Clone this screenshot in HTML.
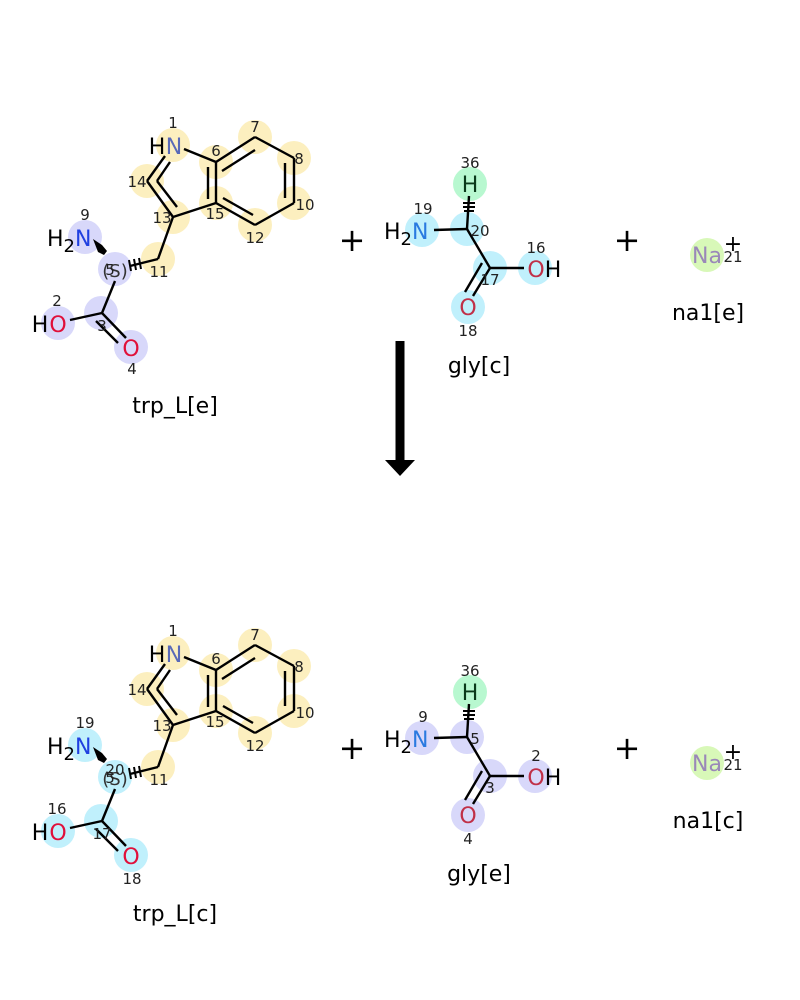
<!DOCTYPE html>
<html><head><meta charset="utf-8"><style>
html,body{margin:0;padding:0;background:#fff;}
svg{display:block;}
text{font-family:"DejaVu Sans","Liberation Sans",sans-serif;}
.n{font-size:15px;fill:#222;text-anchor:middle;}
.a{font-size:22px;text-anchor:middle;}
.lbl{font-size:22px;fill:#000;text-anchor:middle;}
.b{stroke:#000;stroke-width:2.4;fill:none;}
</style></head><body>
<svg width="800" height="1000" viewBox="0 0 800 1000" xmlns="http://www.w3.org/2000/svg">
<defs>
<g id="indole">
  <g fill="#fcefbf">
    <circle cx="173" cy="145" r="17"/><circle cx="216" cy="162" r="17"/><circle cx="255" cy="137" r="17"/>
    <circle cx="294" cy="158" r="17"/><circle cx="294" cy="203" r="17"/><circle cx="255" cy="225" r="17"/>
    <circle cx="216" cy="203" r="17"/><circle cx="173" cy="217" r="17"/><circle cx="147" cy="181" r="17"/>
    <circle cx="158" cy="259" r="17"/>
  </g>
  <g class="b" stroke="#2a2410">
    <line x1="184" y1="149" x2="216" y2="162"/>
    <line x1="216" y1="162" x2="255" y2="137"/><line x1="222" y1="171" x2="255" y2="150"/>
    <line x1="255" y1="137" x2="294" y2="158"/>
    <line x1="294" y1="158" x2="294" y2="203"/><line x1="285" y1="163" x2="285" y2="198"/>
    <line x1="294" y1="203" x2="255" y2="225"/>
    <line x1="255" y1="225" x2="216" y2="203"/><line x1="253" y1="215" x2="223" y2="198"/>
    <line x1="216" y1="203" x2="216" y2="162"/><line x1="208" y1="199" x2="208" y2="167"/>
    <line x1="216" y1="203" x2="173" y2="217"/>
    <line x1="173" y1="217" x2="147" y2="181"/><line x1="177" y1="207" x2="157" y2="181"/>
    <line x1="147" y1="181" x2="165" y2="156"/><line x1="157" y1="181" x2="170" y2="162"/>
    <line x1="173" y1="217" x2="158" y2="259"/>
  </g>
  <text x="157" y="154" class="a" fill="#000">H</text><text x="174" y="154" class="a" fill="#5a6ab8">N</text>
  <text x="173" y="128" class="n">1</text><text x="216" y="156" class="n">6</text><text x="255" y="132" class="n">7</text>
  <text x="299" y="164" class="n">8</text><text x="305" y="210" class="n">10</text><text x="255" y="243" class="n">12</text>
  <text x="215" y="219" class="n">15</text><text x="162" y="223" class="n">13</text><text x="137" y="187" class="n">14</text>
  <text x="159" y="277" class="n">11</text>
</g>
<g id="aa">
  <line class="b" x1="158" y1="259" x2="130" y2="266"/>
  <g stroke="#000" stroke-width="2"><line x1="129" y1="260" x2="131" y2="271"/><line x1="134" y1="259" x2="136" y2="270"/><line x1="139" y1="258" x2="141" y2="269"/></g>
  <polygon points="93,239 98,252 104,255 107,251 102,245" fill="#000"/>
  <line class="b" x1="115" y1="281" x2="102" y2="313"/>
  <line class="b" x1="102" y1="313" x2="70" y2="320"/>
  <line class="b" x1="102" y1="313" x2="126" y2="338"/><line class="b" x1="96" y1="321" x2="118" y2="343"/>
  <text x="47" y="246" style="font-size:22px;fill:#000">H<tspan dy="6" style="font-size:18px">2</tspan><tspan dy="-6" fill="#2040e0">N</tspan></text>
  <text x="115" y="277" style="font-size:18px;fill:#333;text-anchor:middle">(S)</text>
  <text x="110" y="275" class="n">5</text>
  <text x="40" y="332" class="a" fill="#000">H</text><text x="58" y="332" class="a" fill="#e0103a">O</text>
  <text x="131" y="356" class="a" fill="#e0103a">O</text>
</g>
<g id="gly">
  <line class="b" x1="434" y1="230" x2="467" y2="229"/>
  <line class="b" x1="467" y1="229" x2="469" y2="196"/>
  <g stroke="#000" stroke-width="2"><line x1="463" y1="203" x2="475" y2="203"/><line x1="463" y1="207" x2="475" y2="207"/><line x1="464" y1="211" x2="474" y2="211"/></g>
  <line class="b" x1="467" y1="229" x2="490" y2="268"/>
  <line class="b" x1="490" y1="268" x2="524" y2="268"/>
  <line class="b" x1="490" y1="268" x2="473" y2="296"/><line class="b" x1="482" y1="263" x2="465" y2="292"/>
  <text x="384" y="239" style="font-size:22px;fill:#000">H<tspan dy="6" style="font-size:18px">2</tspan><tspan dy="-6" fill="#2a7ae0">N</tspan></text>
  <text x="470" y="192" class="a" fill="#0a3a1a">H</text>
  <text x="536" y="277" class="a" fill="#c03048">O</text><text x="553" y="277" class="a" fill="#000">H</text>
  <text x="468" y="315" class="a" fill="#c03048">O</text>
</g>
</defs>

<!-- TOP -->
<g fill="#d8d8fa">
  <circle cx="85" cy="237" r="17"/><circle cx="115" cy="269" r="17"/><circle cx="101" cy="313" r="17"/>
  <circle cx="58" cy="323" r="17"/><circle cx="131" cy="347" r="17"/>
</g>
<use href="#indole"/>
<use href="#aa"/>
<text x="85" y="220" class="n">9</text><text x="57" y="306" class="n">2</text><text x="102" y="331" class="n">3</text><text x="132" y="374" class="n">4</text>
<text x="175" y="413" class="lbl">trp_L[e]</text>

<g fill="#c0f0fc">
  <circle cx="422" cy="230" r="17"/><circle cx="467" cy="229" r="17"/><circle cx="490" cy="268" r="17"/>
  <circle cx="535" cy="268" r="17"/><circle cx="468" cy="307" r="17"/>
</g>
<circle cx="470" cy="184" r="17" fill="#b8f8d0"/>
<use href="#gly"/>
<text x="470" y="168" class="n">36</text><text x="423" y="214" class="n">19</text><text x="480" y="236" class="n">20</text>
<text x="536" y="253" class="n">16</text><text x="490" y="285" class="n">17</text><text x="468" y="336" class="n">18</text>
<text x="479" y="373" class="lbl">gly[c]</text>

<circle cx="707" cy="255" r="17" fill="#d8f8b8"/>
<text x="707" y="263" class="a" fill="#9a88b8">Na</text>
<text x="733" y="251" class="a" fill="#000">+</text><text x="733" y="262" class="n">21</text>
<text x="708" y="320" class="lbl">na1[e]</text>

<text x="352" y="251" style="font-size:32px;text-anchor:middle;fill:#000">+</text>
<text x="627" y="251" style="font-size:32px;text-anchor:middle;fill:#000">+</text>

<rect x="395.5" y="341" width="9" height="121" fill="#000"/>
<polygon points="385,460 415,460 400,476" fill="#000"/>

<!-- BOTTOM -->
<g transform="translate(0,508)">
  <g fill="#c0f0fc">
    <circle cx="85" cy="237" r="17"/><circle cx="115" cy="269" r="17"/><circle cx="101" cy="313" r="17"/>
    <circle cx="58" cy="323" r="17"/><circle cx="131" cy="347" r="17"/>
  </g>
  <use href="#indole"/>
  <use href="#aa"/>
  <text x="85" y="220" class="n">19</text><text x="57" y="306" class="n">16</text><text x="102" y="331" class="n">17</text><text x="132" y="376" class="n">18</text>
  <text x="115" y="267" class="n">20</text>
  <text x="175" y="413" class="lbl">trp_L[c]</text>

  <g fill="#d8d8fa">
    <circle cx="422" cy="230" r="17"/><circle cx="467" cy="229" r="17"/><circle cx="490" cy="268" r="17"/>
    <circle cx="535" cy="268" r="17"/><circle cx="468" cy="307" r="17"/>
  </g>
  <circle cx="470" cy="184" r="17" fill="#b8f8d0"/>
  <use href="#gly"/>
  <text x="470" y="168" class="n">36</text><text x="423" y="214" class="n">9</text><text x="475" y="236" class="n">5</text>
  <text x="536" y="253" class="n">2</text><text x="490" y="285" class="n">3</text><text x="468" y="336" class="n">4</text>
  <text x="479" y="373" class="lbl">gly[e]</text>

  <circle cx="707" cy="255" r="17" fill="#d8f8b8"/>
  <text x="707" y="263" class="a" fill="#9a88b8">Na</text>
  <text x="733" y="251" class="a" fill="#000">+</text><text x="733" y="262" class="n">21</text>
  <text x="708" y="320" class="lbl">na1[c]</text>

  <text x="352" y="251" style="font-size:32px;text-anchor:middle;fill:#000">+</text>
  <text x="627" y="251" style="font-size:32px;text-anchor:middle;fill:#000">+</text>
</g>
</svg>
</body></html>
